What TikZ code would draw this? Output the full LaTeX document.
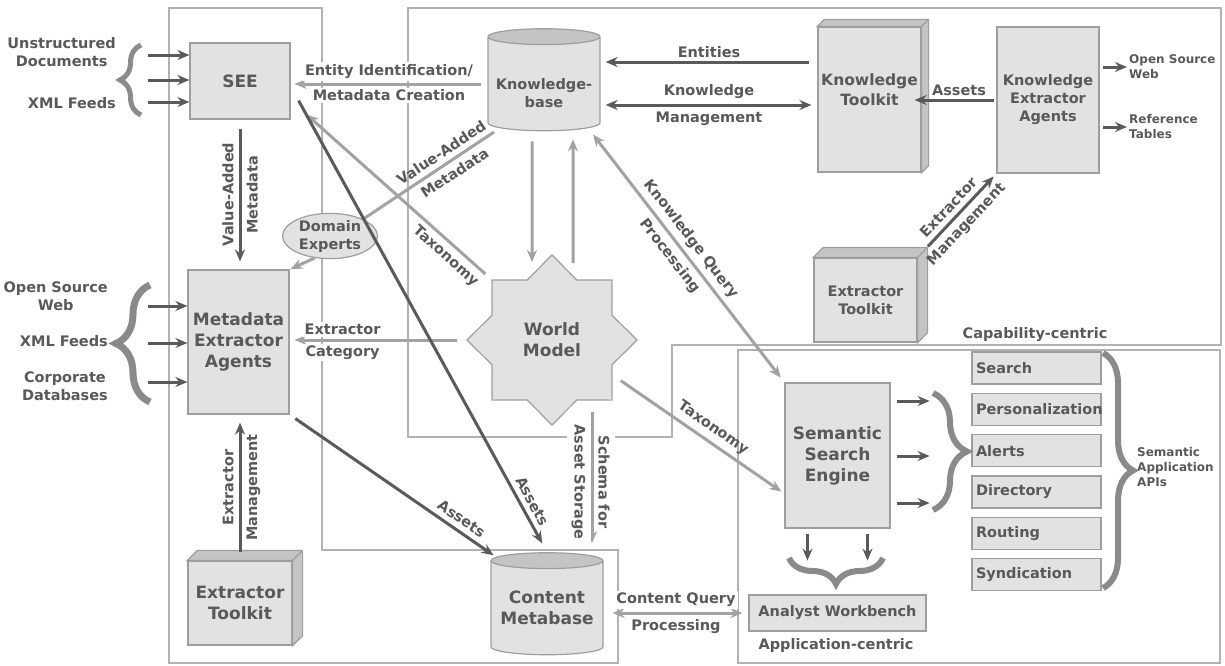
\documentclass[tikz,border=0pt]{standalone}
\usepackage{fontspec}
\setmainfont{DejaVu Sans}
\usetikzlibrary{shapes.geometric, arrows.meta, positioning, calc, decorations.pathreplacing}

\definecolor{ink}{HTML}{595959}
\definecolor{boxfill}{HTML}{E2E2E2}
\definecolor{edge}{HTML}{9E9E9E}
\definecolor{sidefill}{HTML}{C4C4C4}
\definecolor{darkline}{HTML}{5A5A5A}
\definecolor{lightline}{HTML}{A2A2A2}
\definecolor{framegray}{HTML}{B2B2B2}
\definecolor{bracegray}{HTML}{8A8A8A}

\begin{document}
\begin{tikzpicture}[x=1pt, y=-1pt,
  >={Stealth[length=12pt, width=10pt]},
  bigfont/.style={font=\bfseries\fontsize{17}{21}\selectfont},
  midfont/.style={font=\bfseries\fontsize{14.5}{18}\selectfont},
  smallfont/.style={font=\bfseries\fontsize{12}{15}\selectfont},
  box/.style={draw=edge, fill=boxfill, line width=1.2pt, align=center, text=ink, inner sep=0pt, bigfont},
  api/.style={box, midfont, minimum width=129pt, minimum height=32pt, text width=121pt, align=left, inner xsep=4pt},
  store/.style={cylinder, shape border rotate=90, aspect=0.17, draw=edge, line width=1.2pt,
    cylinder uses custom fill, cylinder body fill=boxfill, cylinder end fill=sidefill,
    minimum width=112pt, minimum height=102pt, inner sep=0pt, align=center, text=ink, bigfont},
  wmstar/.style={star, star points=8, star point ratio=1.31, minimum size=170pt, draw=edge,
    fill=boxfill, line width=1.2pt, inner sep=0pt, align=center, text=ink, bigfont},
  face/.style={fill=sidefill, draw=edge, line width=1.2pt},
  txt/.style={text=ink, align=center, inner sep=2pt, midfont},
  sl/.style={sloped, inner ysep=5pt},
  cut/.style={fill=white},
  darrow/.style={->, draw=darkline, line width=3pt},
  larrow/.style={->, draw=lightline, line width=3pt},
  frame/.style={draw=framegray, line width=2.5pt},
  brc/.style={draw=bracegray, line width=6pt, decorate, decoration={brace, amplitude=#1}}
]
\useasboundingbox (0,0) rectangle (1225,665);

% Frames
\draw[frame] (169,8) -| (322,550) -| (618,663) -| (169,8) -- cycle;
\draw[frame] (408,8) -| (1221,345) -| (672,437) -| (408,8) -- cycle;
\draw[frame] (738,350) rectangle (1220,663);
\node[txt] (capc) at (1035,335) {Capability-centric};
\node[txt] (appc) at (836,645) {Application-centric};

% Nodes
\node[box, minimum width=100pt, minimum height=76pt] (see) at (240,81) {SEE};
\node[box, minimum width=101pt, minimum height=144pt] (mea) at (238.5,342) {Metadata\\Extractor\\Agents};
\node[box, minimum width=104pt, minimum height=84pt] (xtl) at (240,603) {Extractor\\Toolkit};
\node[ellipse, draw=edge, fill=boxfill, line width=1.2pt, minimum width=95pt, minimum height=45pt,
  txt, inner sep=0pt] (de) at (330,236) {Domain\\Experts};
\node[store, label={[txt, yshift=-9pt]center:{Knowledge-\\base}}] (kb) at (544,84) {\phantom{Metabase}};
\node[box, minimum width=103pt, minimum height=145pt,
  label={[txt, font=\bfseries\fontsize{15.5}{20}\selectfont, yshift=10pt]center:{Knowledge\\Toolkit}}] (kt) at (869.5,99.5) {};
\node[box, midfont, minimum width=102pt, minimum height=146pt] (kea) at (1048,100) {Knowledge\\Extractor\\Agents};
\node[box, midfont, minimum width=103pt, minimum height=84pt] (xtc) at (865.5,300) {Extractor\\Toolkit};
\node[wmstar] (wm) at (552,340) {World\\Model};
\node[store] (cm) at (547,608) {Content\\Metabase};
\node[box, minimum width=105pt, minimum height=145pt] (sse) at (837.5,455.5) {Semantic\\Search\\Engine};
\foreach \t [count=\i from 0] in {Search, Personalization, Alerts, Directory, Routing, Syndication}
  \node[api] (api\i) at (1036.5, {368+41.3*\i}) {\t};
\node[box, midfont, minimum width=177pt, minimum height=36pt] (aw) at (837.5,613) {Analyst Workbench};

% 3D faces of the toolkits
\foreach \b/\d in {kt/7, xtc/10, xtl/10} {
  \filldraw[face] (\b.north west) -- ++(\d,-\d) -| ($(\b.south east)+(\d,-\d)$) -- (\b.south east) -- (\b.north east) -- cycle;
  \draw[face] (\b.north east) -- ++(\d,-\d);
}

% Source labels
\node[txt, anchor=east] (udoc) at (118,52) {Unstructured\\Documents};
\node[txt, anchor=east] (xml1) at (118,103) {XML Feeds};
\node[txt, anchor=east] (osw1) at (110,296) {Open Source\\Web};
\node[txt, anchor=east] (xml2) at (110,341) {XML Feeds};
\node[txt, anchor=east] (cdb) at (110,386) {Corporate\\Databases};
\node[txt, smallfont, anchor=west, align=left] (osw2) at (1127,67) {Open Source\\Web};
\node[txt, smallfont, anchor=west, align=left] (rtab) at (1127,127) {Reference\\Tables};
\node[txt, smallfont, anchor=west, align=left] (apis) at (1135,467) {Semantic\\Application\\APIs};

% Braces
\draw[brc=21pt, line width=5pt] (141,115) -- (141,45);
\draw[brc=34pt, line width=7pt] (150,402) -- (150,285);
\draw[brc=34pt] (933,393) -- (933,510);
\draw[brc=30pt] (1103,353) -- (1103,588);
\draw[brc=26pt] (883,558) -- (789,558);

% Inputs
\foreach \y [count=\i] in {55,80,102,306,343,382} {
  \coordinate (in\i) at (148,\y);
}
\foreach \i in {1,2,3} \draw[darrow] (in\i) -- (in\i -| see.west);
\foreach \i in {4,5,6} \draw[darrow] (in\i) -- (in\i -| mea.west);

% Left column
\draw[darrow, shorten <=9pt, shorten >=8pt] (see.south) -- (see.south |- mea.north)
  node[txt, midway, rotate=90, anchor=south, inner ysep=5pt] {Value-Added}
  node[txt, midway, rotate=90, anchor=north, inner ysep=5pt] {Metadata};
\draw[darrow, shorten <=8pt, shorten >=8pt] (xtl.north) -- (xtl.north |- mea.south)
  node[txt, midway, sl, above] {Extractor}
  node[txt, midway, sl, below] {Management};
\draw[larrow, shorten >=1pt] (de.235) -- (mea.north east);
\draw[draw=lightline, line width=3pt, shorten >=7pt] (de.27) -- (kb.south west)
  node[txt, pos=0.62, sl, above] {Value-Added}
  node[txt, pos=0.62, sl, below] {Metadata};

% Knowledge-base links
\draw[larrow, shorten <=6pt, shorten >=4pt] (kb.west) -- (kb.west -| see.east)
  node[txt, cut, midway, above=2pt] {Entity Identification/}
  node[txt, cut, midway, below=2pt] {Metadata Creation};
\draw[darrow, shorten <=8pt, shorten >=5pt] (kt.west |- 0,62) -- (kb.east |- 0,62)
  node[txt, midway, above=1pt] {Entities};
\draw[darrow, <->, shorten <=5pt, shorten >=6pt] (kb.east |- 0,105) -- (kt.west |- 0,105)
  node[txt, midway, above=3pt] {Knowledge}
  node[txt, midway, below=3pt] {Management};
\draw[larrow] ($(kb.south)+(-12,10)$) -- ($(wm.north)+(-20,8)$);
\draw[larrow] ($(wm.north)+(21,9)$) -- ($(kb.south)+(29,8)$);
\draw[larrow, <->, shorten <=8pt, shorten >=6pt] (kb.south east) -- (sse.north west)
  node[txt, pos=0.47, sl, above] {Knowledge Query}
  node[txt, pos=0.47, sl, below] {Processing};

% Capability side
\draw[darrow, shorten <=2pt, shorten >=-7pt] (kea.west) -- (kea.west -| kt.east)
  node[txt, midway, above=1pt] {Assets};
\draw[darrow, shorten <=3pt] (kea.east |- osw2) -- (osw2.west);
\draw[darrow, shorten <=3pt] (kea.east |- rtab) -- (rtab.west);
\draw[darrow, shorten <=15pt, shorten >=4pt] (xtc.north east) -- (kea.south west)
  node[txt, midway, sl, above] {Extractor}
  node[txt, midway, sl, below] {Management};

% World model links
\draw[larrow, shorten <=8pt] (wm.135) -- ($(see.south east)+(16,-5)$)
  node[txt, pos=0.2, sl, below] {Taxonomy};
\draw[larrow, shorten <=9pt, shorten >=5pt] (wm.west) -- (wm.west -| mea.east)
  node[txt, cut, pos=0.7, above=2pt] {Extractor}
  node[txt, cut, pos=0.7, below=2pt] {Category};
\draw[larrow, shorten <=10pt] (wm.-30) -- ($(sse.south west)+(-3,-37)$)
  node[txt, pos=0.55, sl, above] {Taxonomy};
\coordinate (sch) at (592,412);
\draw[larrow, shorten >=9pt] (sch) -- (sch |- cm.north)
  node[txt, cut, midway, sl, above] {Schema for}
  node[txt, cut, midway, sl, below] {Asset Storage};

% Assets into the metabase
\draw[darrow, shorten >=10pt] ($(see.south east)+(8,-19)$) -- (cm.north)
  node[txt, pos=0.9, sl, above] {Assets};
\draw[darrow, shorten <=7pt, shorten >=3pt] (mea.south east) -- (cm.north west)
  node[txt, pos=0.8, sl, above] {Assets};
\draw[larrow, <->, shorten <=9pt, shorten >=6pt] (aw.west -| cm.east) -- (aw.west)
  node[txt, cut, midway, above=3pt] {Content Query}
  node[txt, cut, midway, below=3pt] {Processing};

% Search engine outputs
\foreach \y in {401,456,503}
  \draw[darrow, shorten <=6pt] (sse.east |- 0,\y) -- ++(39,0);
\foreach \dx in {-30,30}
  \draw[darrow] ($(sse.south)+(\dx,5)$) -- ++(0,27);
\end{tikzpicture}
\end{document}
